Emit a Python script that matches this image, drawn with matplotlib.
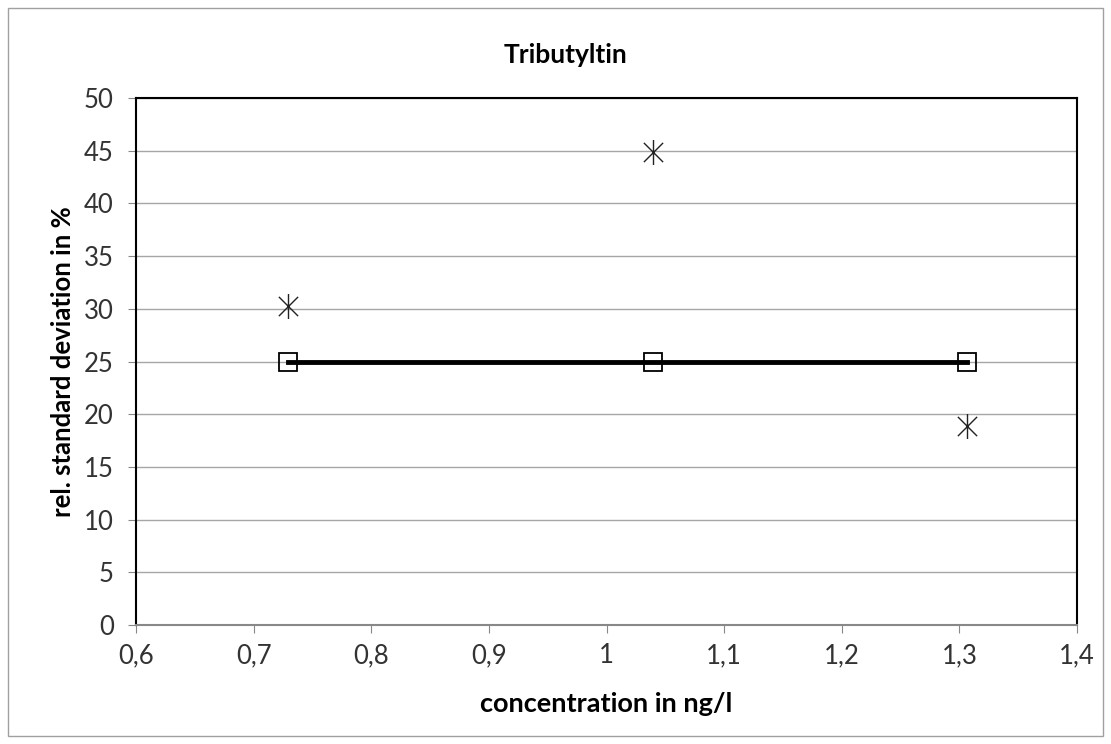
import matplotlib
matplotlib.use("Agg")
import matplotlib.pyplot as plt
from matplotlib.path import Path
from matplotlib.patches import Rectangle
from matplotlib.ticker import FuncFormatter

# donnees
concentration = [0.729, 1.0395, 1.3065]
rsd_mesure = [30.3, 44.9, 18.9]
rsd_limite = [25, 25, 25]

plt.rcParams['font.family'] = ['Lato', 'DejaVu Sans']

# asterisque style Excel : X + trait vertical
etoile = Path([(-1, -1), (1, 1), (-1, 1), (1, -1), (0, -1.3), (0, 1.3)],
              [Path.MOVETO, Path.LINETO, Path.MOVETO, Path.LINETO, Path.MOVETO, Path.LINETO])

fig = plt.figure(figsize=(11.11, 7.44), dpi=100)
ax = fig.add_axes([136/1111, 1 - 625/744, (1077-136)/1111, (625-98)/744])

fig.patches.append(Rectangle((8/1111, 8/744), 1 - 16/1111, 1 - 16/744, transform=fig.transFigure,
                             fill=False, edgecolor='#a0a0a0', linewidth=1))

ax.plot(concentration, rsd_limite, color='black', linewidth=3.5, zorder=3)
ax.plot(concentration, rsd_limite, linestyle='none', marker='s', markersize=13,
        markerfacecolor='none', markeredgecolor='black', markeredgewidth=1.3, zorder=4)
ax.plot(concentration, rsd_mesure, linestyle='none', marker=etoile, markersize=18,
        color='#222222', markeredgewidth=1.0, zorder=4)

ax.set_xlim(0.6, 1.4)
ax.set_ylim(0, 50)
ax.set_xticks([0.6, 0.7, 0.8, 0.9, 1.0, 1.1, 1.2, 1.3, 1.4])
ax.set_yticks(range(0, 51, 5))
ax.xaxis.set_major_formatter(FuncFormatter(lambda v, p: ('%g' % round(v, 1)).replace('.', ',')))
ax.yaxis.grid(True, color='#a6a6a6', linewidth=1)
ax.set_axisbelow(True)

for s in ['top', 'right', 'left']:
    ax.spines[s].set_color('black')
    ax.spines[s].set_linewidth(1.5)
ax.spines['bottom'].set_color('#888888')
ax.spines['bottom'].set_linewidth(1.5)
ax.tick_params(axis='both', direction='out', length=6, color='#888888', labelsize=18.5,
               labelcolor='#333333')
ax.tick_params(axis='x', pad=7)
ax.tick_params(axis='y', pad=10)

# titre place comme dans Excel
fig.text(565/1111, 1 - 55/744, "Tributyltin", fontsize=19, fontweight='bold', ha='center', va='center')
ax.set_xlabel("concentration in ng/l", fontsize=19.5, fontweight='bold', labelpad=17)
ax.set_ylabel("rel. standard deviation in %", fontsize=18.5, fontweight='bold', labelpad=6)

fig.savefig("out.png", dpi=100)
